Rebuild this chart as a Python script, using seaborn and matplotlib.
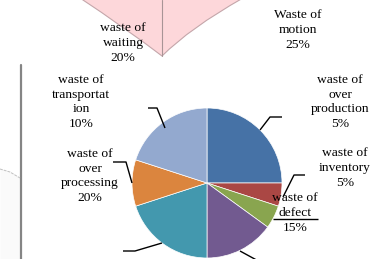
import matplotlib
matplotlib.use("Agg")
import matplotlib.pyplot as plt
from matplotlib.path import Path
from matplotlib.patches import PathPatch
import seaborn as sns

W, H = 374, 259

# slices, clockwise from 12 o'clock
wastes = ["Waste of\nmotion", "waste of\nover\nproduction", "waste of\ninventory",
          "waste of\ndefect", "waste of\nover\nprocessing", "waste of\ntransportat\nion",
          "waste of\nwaiting"]
shares = [25, 5, 5, 15, 20, 10, 20]
colours = ["#4672a6", "#aa4744", "#89a54f", "#725a90", "#4398ae", "#db853e", "#93a9cf"]

# label centres (picture pixels, y down)
label_xy = [(298, 30), (340, 102), (345, 168), (295, 213), (90, 176), (81, 102), (123, 43)]

# leader lines (picture pixels, y down)
leaders = [
    [(282, 117), (270, 117), (260, 130)],
    [(305, 175), (294, 175), (283, 197)],
    [(273, 219), (318, 219)],
    [(240, 251), (262, 263)],
    [(123, 251), (135, 251), (162, 243)],
    [(113, 162), (126, 162), (132, 183)],
    [(148, 108), (157, 108), (165, 128)],
]


def px(x, y):
    return x, H - y


sns.set_theme(style="white")
plt.rcParams['font.family'] = ['Liberation Serif', 'DejaVu Serif']

fig = plt.figure(figsize=(W / 100, H / 100), dpi=100)
ax = fig.add_axes([0, 0, 1, 1])

# bits of the neighbouring figure in the page
verts = [px(80, -2), px(124, 27), px(162, 56), px(190, 28), px(243, -2), px(80, -2)]
codes = [Path.MOVETO, Path.CURVE3, Path.CURVE3, Path.CURVE3, Path.CURVE3, Path.CLOSEPOLY]
ax.add_patch(PathPatch(Path(verts, codes), facecolor="#fdd7da", edgecolor="#c4a6aa", lw=0.8))
ax.plot(*zip(px(162, 0), px(162, 56)), color="#a89496", lw=0.8)
ax.plot(*zip(px(21, 65), px(21, 260)), color="#858585", lw=1.6)
ax.fill_between([0, 10, 20], [H - 169, H - 172, H - 178], [0, 0, 0], color="#fafafa", lw=0)
ax.plot([0, 10, 20], [H - 169, H - 172, H - 178], color="#c0c0c0", lw=0.7, ls=(0, (3, 1)))

ax.pie(shares, colors=colours, startangle=90, counterclock=False,
       center=px(207, 183), radius=75,
       wedgeprops=dict(edgecolor="white", linewidth=0.5))

for name, share, (lx, ly) in zip(wastes, shares, label_xy):
    ax.text(*px(lx, ly), f"{name}\n{share}%", ha="center", va="center",
            fontsize=9.7, color="black", linespacing=1.32)

for line in leaders:
    pts = [px(x, y) for x, y in line]
    ax.plot(*zip(*pts), color="black", lw=1.0, solid_capstyle="butt")

ax.set_xlim(0, W)
ax.set_ylim(0, H)
ax.set_aspect("equal")
ax.axis("off")

fig.savefig("out.png", dpi=100)
